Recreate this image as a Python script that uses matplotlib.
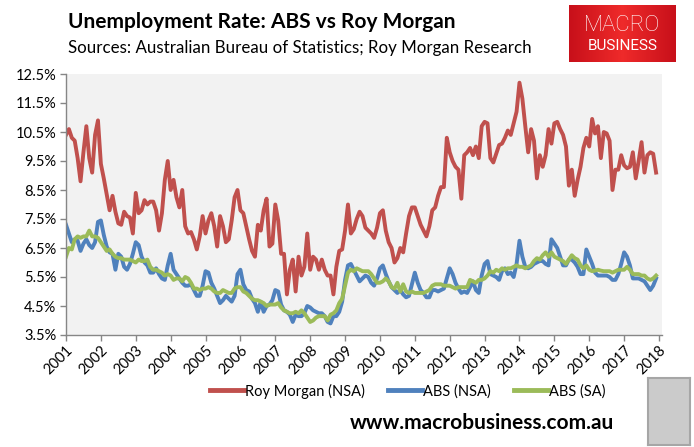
import numpy as np
import matplotlib
matplotlib.use("Agg")
import matplotlib.pyplot as plt
from matplotlib.colors import LinearSegmentedColormap

plt.rcParams["font.family"] = ["Lato", "DejaVu Sans"]

# monthly data, Jan 2001 - Dec 2017 (unemployment rate, %)
roy_morgan_nsa = [
    10.4, 10.6, 10.3, 10.2, 9.6, 8.8, 9.8, 10.7, 9.6, 9.1, 10.4, 10.9,   # 2001
    9.4, 8.9, 8.35, 7.8, 8.3, 7.75, 7.35, 7.3, 7.75, 7.6, 7.55, 7.0,     # 2002
    8.4, 7.7, 7.8, 8.15, 8.0, 8.1, 8.1, 7.8, 7.1, 7.7, 8.85, 9.5,        # 2003
    8.5, 8.85, 8.25, 7.9, 8.5, 7.25, 7.0, 7.05, 6.8, 6.45, 6.9, 7.6,     # 2004
    7.0, 7.45, 7.7, 7.25, 6.55, 7.6, 7.25, 6.7, 6.8, 7.45, 8.25, 8.5,    # 2005
    7.8, 7.7, 7.25, 6.8, 6.4, 6.2, 7.3, 7.1, 7.8, 8.2, 6.55, 6.65,       # 2006
    8.0, 7.45, 6.3, 6.3, 4.9, 5.75, 6.1, 5.0, 6.2, 5.55, 5.85, 7.0,      # 2007
    5.75, 6.2, 6.1, 5.75, 6.1, 5.75, 5.55, 5.55, 4.9, 5.85, 6.4, 6.45,   # 2008
    7.1, 8.0, 7.0, 7.15, 7.5, 7.75, 7.6, 7.2, 7.1, 7.0, 6.85, 7.2,       # 2009
    7.7, 7.8, 7.1, 6.7, 6.5, 6.0, 6.15, 6.5, 6.35, 7.0, 7.6, 7.9,        # 2010
    7.9, 7.6, 7.3, 7.1, 6.9, 7.25, 7.8, 7.9, 8.3, 8.6, 8.6, 10.3,        # 2011
    9.8, 9.5, 9.3, 9.2, 8.2, 9.7, 9.8, 9.95, 9.7, 10.0, 9.6, 10.7,       # 2012
    10.85, 10.8, 9.6, 9.45, 9.75, 10.05, 10.1, 10.3, 10.55, 10.4, 10.8, 11.2,  # 2013
    12.2, 11.65, 10.7, 9.8, 10.6, 10.2, 8.9, 9.7, 9.3, 9.7, 10.6, 10.1,  # 2014
    10.8, 10.85, 10.6, 10.4, 10.0, 8.65, 9.2, 8.3, 8.85, 9.3, 9.95, 10.3,  # 2015
    10.0, 10.95, 10.45, 10.7, 9.6, 10.5, 10.45, 10.2, 8.5, 9.2, 9.2, 9.7,  # 2016
    9.35, 9.25, 9.3, 9.8, 8.9, 9.5, 10.15, 9.1, 9.7, 9.8, 9.75, 9.1,     # 2017
]

abs_nsa = [
    7.3, 7.0, 6.7, 6.8, 6.75, 6.4, 6.65, 6.8, 6.6, 6.5, 6.7, 7.4,        # 2001
    7.45, 6.95, 6.55, 6.35, 6.3, 5.75, 6.3, 6.2, 5.85, 5.75, 5.95, 6.3,  # 2002
    6.7, 6.6, 6.2, 6.0, 5.9, 5.65, 5.65, 5.8, 5.6, 5.45, 5.4, 5.9,       # 2003
    6.3, 5.75, 5.6, 5.45, 5.3, 5.2, 5.2, 5.25, 5.05, 4.85, 4.85, 5.2,    # 2004
    5.7, 5.65, 5.3, 5.1, 4.85, 4.6, 4.7, 4.85, 4.75, 4.65, 4.85, 5.6,    # 2005
    5.75, 5.25, 5.05, 5.0, 4.75, 4.6, 4.3, 4.65, 4.3, 4.5, 4.55, 4.7,    # 2006
    5.05, 5.0, 4.55, 4.35, 4.3, 4.2, 3.95, 4.2, 4.15, 4.15, 4.25, 4.5,   # 2007
    4.45, 4.35, 4.3, 4.25, 4.25, 4.15, 3.95, 3.9, 4.15, 4.15, 4.3, 4.65, # 2008
    5.4, 5.9, 5.95, 5.75, 5.55, 5.35, 5.45, 5.55, 5.5, 5.3, 5.2, 5.45,   # 2009
    5.8, 5.9, 5.6, 5.35, 5.15, 5.05, 4.95, 5.05, 4.9, 4.8, 4.85, 5.25,   # 2010
    5.65, 5.3, 5.05, 4.95, 4.8, 4.8, 5.05, 5.05, 5.0, 5.05, 5.1, 5.45,   # 2011
    5.8, 5.6, 5.3, 5.1, 4.95, 5.0, 4.95, 5.15, 5.35, 5.05, 4.95, 5.55,   # 2012
    5.95, 6.05, 5.6, 5.55, 5.5, 5.4, 5.7, 5.8, 5.6, 5.65, 5.5, 5.95,     # 2013
    6.75, 6.2, 5.85, 5.8, 5.85, 5.95, 6.0, 6.05, 6.05, 5.95, 5.9, 6.8,   # 2014
    6.65, 6.5, 6.2, 5.9, 5.9, 6.1, 6.1, 6.0, 5.85, 5.6, 5.6, 6.45,       # 2015
    6.2, 5.95, 5.65, 5.55, 5.55, 5.55, 5.55, 5.5, 5.4, 5.4, 5.6, 5.95,   # 2016
    6.35, 6.2, 5.9, 5.45, 5.45, 5.45, 5.4, 5.35, 5.2, 5.05, 5.2, 5.45,   # 2017
]

abs_sa = [
    6.2, 6.5, 6.45, 6.8, 6.9, 6.85, 6.9, 6.9, 7.1, 6.9, 6.9, 6.85,       # 2001
    6.7, 6.55, 6.4, 6.45, 6.3, 6.2, 6.15, 6.15, 6.1, 6.1, 6.1, 6.05,     # 2002
    6.0, 6.1, 6.05, 6.05, 6.1, 5.85, 5.75, 5.75, 5.7, 5.65, 5.55, 5.6,   # 2003
    5.55, 5.4, 5.45, 5.45, 5.35, 5.5, 5.45, 5.3, 5.1, 5.1, 5.05, 5.1,    # 2004
    5.1, 5.15, 5.1, 5.0, 4.95, 4.95, 5.05, 5.0, 4.95, 4.95, 5.1, 5.15,   # 2005
    5.15, 5.0, 4.95, 4.85, 4.75, 4.7, 4.7, 4.65, 4.6, 4.5, 4.55, 4.55,   # 2006
    4.55, 4.6, 4.45, 4.35, 4.3, 4.25, 4.25, 4.3, 4.25, 4.35, 4.25, 4.1,  # 2007
    3.95, 4.0, 4.1, 4.15, 4.15, 4.15, 4.0, 4.2, 4.25, 4.35, 4.6, 4.75,   # 2008
    5.2, 5.65, 5.75, 5.7, 5.8, 5.75, 5.7, 5.7, 5.7, 5.6, 5.45, 5.3,      # 2009
    5.3, 5.35, 5.45, 5.35, 5.15, 5.1, 5.3, 5.0, 5.25, 5.0, 4.95, 5.0,    # 2010
    4.95, 4.95, 4.95, 4.95, 5.0, 5.05, 5.2, 5.25, 5.25, 5.25, 5.2, 5.2,  # 2011
    5.2, 5.15, 5.1, 5.15, 5.15, 5.15, 5.15, 5.4, 5.35, 5.3, 5.4, 5.4,    # 2012
    5.45, 5.55, 5.7, 5.65, 5.75, 5.7, 5.8, 5.75, 5.8, 5.8, 5.85, 5.9,    # 2013
    5.85, 5.85, 5.8, 5.85, 5.9, 6.05, 6.15, 6.1, 6.25, 6.35, 6.2, 6.35,  # 2014
    6.2, 6.15, 6.1, 6.05, 5.95, 6.1, 6.25, 6.15, 6.1, 5.9, 5.8, 5.9,     # 2015
    5.75, 5.7, 5.72, 5.75, 5.72, 5.7, 5.7, 5.7, 5.65, 5.7, 5.75, 5.75,   # 2016
    5.75, 5.85, 5.75, 5.6, 5.6, 5.6, 5.55, 5.55, 5.45, 5.4, 5.45, 5.55,  # 2017
]

start_year = 2001
years = list(range(2001, 2019))
y_ticks = [3.5, 4.5, 5.5, 6.5, 7.5, 8.5, 9.5, 10.5, 11.5, 12.5]

RED = "#C0504D"
BLUE = "#4F81BD"
GREEN = "#9BBB59"


def month_axis(series):
    return start_year + np.arange(len(series)) / 12.0


fig = plt.figure(figsize=(6.94, 4.47), dpi=100)
ax = fig.add_axes([66 / 694, 1 - 335 / 447, 596 / 694, 261 / 447])
ax.set_facecolor("#F2F2F2")

ax.plot(month_axis(roy_morgan_nsa), roy_morgan_nsa, color=RED, lw=2.8,
        solid_joinstyle="round", label="Roy Morgan (NSA)")
ax.plot(month_axis(abs_nsa), abs_nsa, color=BLUE, lw=2.8,
        solid_joinstyle="round", label="ABS (NSA)")
ax.plot(month_axis(abs_sa), abs_sa, color=GREEN, lw=2.8,
        solid_joinstyle="round", label="ABS (SA)")

ax.set_xlim(2001, 2018.086)
ax.set_ylim(3.5, 12.5)
ax.set_yticks(y_ticks)
ax.set_yticklabels([f"{v:.1f}%" for v in y_ticks])
ax.set_xticks(years)
ax.set_xticklabels([str(y) for y in years], rotation=45, ha="right",
                   va="top", rotation_mode="anchor")

for side in ["top", "right"]:
    ax.spines[side].set_visible(False)
for side in ["left", "bottom"]:
    ax.spines[side].set_color("#868686")
    ax.spines[side].set_linewidth(1.0)
ax.tick_params(axis="both", colors="#868686", length=4, width=1.0,
               labelcolor="black", labelsize=10.5)
ax.tick_params(axis="y", pad=3)
ax.tick_params(axis="x", pad=2)

# titles
fig.text(68 / 694, 1 - 22 / 447, "Unemployment Rate: ABS vs Roy Morgan",
         fontsize=15, fontweight="bold", va="center", ha="left")
fig.text(68 / 694, 1 - 48 / 447,
         "Sources: Australian Bureau of Statistics; Roy Morgan Research",
         fontsize=12.2, va="center", ha="left")

# legend
leg = fig.legend(loc="center", bbox_to_anchor=(408 / 694, 1 - 391 / 447),
                 ncol=3, frameon=False, fontsize=10.5, handlelength=2.3,
                 handletextpad=0.1, columnspacing=1.6)
for line in leg.get_lines():
    line.set_linewidth(3.5)

fig.text(482 / 694, 1 - 423 / 447, "www.macrobusiness.com.au",
         fontsize=15, fontweight="bold", ha="center", va="center")

# logo
logo = fig.add_axes([569 / 694, 1 - 62 / 447, 107 / 694, 57 / 447])
logo.set_xlim(0, 1)
logo.set_ylim(0, 1)
logo.axis("off")
grad = np.linspace(0, 1, 50)[None, :]
red_cmap = LinearSegmentedColormap.from_list("r", ["#EE2A2A", "#C8101A"])
logo.imshow(np.abs(grad - 0.5), cmap=red_cmap, extent=(0, 1, 0, 1),
            aspect="auto")
logo.text(0.5, 0.64, "MACRO", color="white", fontsize=16, ha="center",
          va="center", family=["Roboto", "DejaVu Sans"], fontweight="light")
logo.text(0.5, 0.28, "BUSINESS", color="white", fontsize=11, ha="center",
          va="center", family=["Roboto", "DejaVu Sans"])

# wolf badge
badge = fig.add_axes([648 / 694, 2 / 447, 42 / 694, 67 / 447])
badge.set_xticks([])
badge.set_yticks([])
badge.set_facecolor("#CBCBCB")
for s in badge.spines.values():
    s.set_color("#A6A6A6")
    s.set_linewidth(1.5)

fig.savefig("out.png", dpi=100)
